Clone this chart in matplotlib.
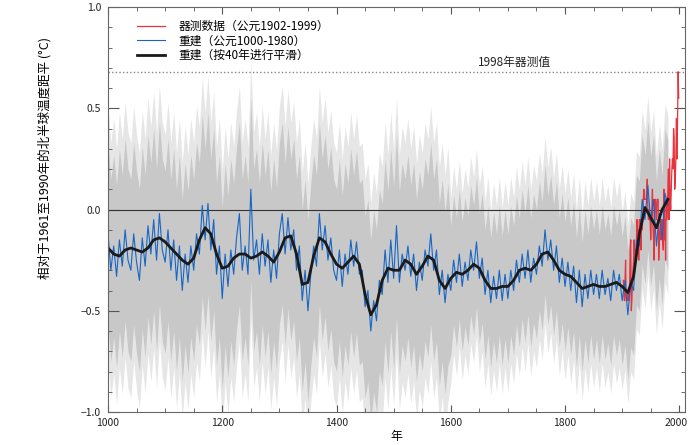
import numpy as np
import matplotlib.pyplot as plt
from matplotlib.ticker import MultipleLocator

plt.rcParams['font.family'] = ['Noto Sans CJK SC', 'DejaVu Sans']

# reconstruction, every 5 years from 1000 to 1980
recon_years = list(range(1000, 1981, 5))
recon = [
    # 1000s
    -0.12, -0.30, -0.18, -0.33, -0.15, -0.28, -0.10, -0.25, -0.30, -0.12,
    -0.26, -0.35, -0.14, -0.28, -0.08, -0.22, -0.05, -0.25, -0.02, -0.20,
    # 1100s
    -0.26, -0.10, -0.30, -0.15, -0.35, -0.18, -0.40, -0.22, -0.36, -0.18,
    -0.30, -0.12, -0.22, 0.02, -0.15, 0.03, -0.20, -0.05, -0.32, -0.18,
    # 1200s
    -0.44, -0.22, -0.38, -0.20, -0.32, -0.14, -0.02, -0.30, -0.18, -0.32,
    0.10, -0.25, -0.15, -0.32, -0.12, -0.28, -0.15, -0.36, -0.20, -0.34,
    # 1300s
    -0.12, -0.02, -0.22, -0.04, -0.20, -0.10, -0.30, -0.18, -0.45, -0.30,
    -0.50, -0.32, -0.18, -0.28, -0.02, -0.20, -0.08, -0.25, -0.14, -0.30,
    # 1400s
    -0.35, -0.20, -0.38, -0.22, -0.32, -0.15, -0.28, -0.16, -0.32, -0.30,
    -0.48, -0.40, -0.60, -0.45, -0.55, -0.35, -0.42, -0.20, -0.36, -0.15,
    # 1500s
    -0.34, -0.08, -0.36, -0.22, -0.30, -0.18, -0.33, -0.22, -0.40, -0.26,
    -0.35, -0.20, -0.28, -0.12, -0.30, -0.20, -0.42, -0.30, -0.46, -0.32,
    # 1600s
    -0.40, -0.25, -0.36, -0.22, -0.38, -0.26, -0.35, -0.20, -0.30, -0.16,
    -0.34, -0.24, -0.42, -0.30, -0.46, -0.33, -0.44, -0.30, -0.45, -0.32,
    # 1700s
    -0.44, -0.30, -0.40, -0.25, -0.36, -0.22, -0.34, -0.20, -0.36, -0.24,
    -0.32, -0.18, -0.28, -0.10, -0.25, -0.15, -0.30, -0.18, -0.36, -0.24,
    # 1800s
    -0.38, -0.26, -0.40, -0.28, -0.46, -0.30, -0.48, -0.32, -0.44, -0.30,
    -0.42, -0.32, -0.44, -0.30, -0.42, -0.34, -0.45, -0.30, -0.40, -0.32,
    # 1900s
    -0.45, -0.35, -0.52, -0.36, -0.40, -0.15, -0.18, 0.05, -0.05, 0.12,
    -0.06, 0.05, -0.18, -0.02, -0.15, 0.08, 0.02,
]

# half width of the uncertainty band (core and outer), per century from 1000
band_core = [0.45, 0.45, 0.45, 0.45, 0.45, 0.45, 0.32, 0.32, 0.32, 0.32]
band_outer = [0.63, 0.63, 0.63, 0.63, 0.63, 0.63, 0.46, 0.46, 0.46, 0.44]

# 40-year smoothed reconstruction, every 10 years
smooth_years = list(range(1000, 1981, 10))
smooth = [
    -0.19, -0.22, -0.23, -0.20, -0.19, -0.20, -0.21, -0.19, -0.15, -0.14,
    -0.16, -0.19, -0.22, -0.25, -0.27, -0.24, -0.15, -0.09, -0.12, -0.22,
    -0.29, -0.28, -0.24, -0.22, -0.22, -0.24, -0.23, -0.21, -0.23, -0.26,
    -0.21, -0.14, -0.13, -0.22, -0.37, -0.36, -0.23, -0.14, -0.16, -0.22,
    -0.27, -0.29, -0.26, -0.23, -0.27, -0.42, -0.52, -0.47, -0.35, -0.29,
    -0.30, -0.30, -0.25, -0.27, -0.32, -0.28, -0.23, -0.25, -0.35, -0.39,
    -0.34, -0.31, -0.32, -0.30, -0.27, -0.29, -0.35, -0.39, -0.39, -0.38,
    -0.38, -0.35, -0.30, -0.29, -0.30, -0.27, -0.22, -0.21, -0.25, -0.30,
    -0.32, -0.33, -0.36, -0.39, -0.38, -0.37, -0.38, -0.38, -0.37, -0.36,
    -0.38, -0.41, -0.33, -0.12, 0.01, -0.04, -0.09, 0.00, 0.05,
]

# instrumental record 1902-1999
instr_years = list(range(1902, 2000))
instr = [
    -0.35, -0.40, -0.45, -0.35, -0.25, -0.45, -0.45, -0.45, -0.40, -0.45,
    -0.45, -0.40, -0.20, -0.15, -0.50, -0.45, -0.35, -0.30, -0.25, -0.15,
    -0.25, -0.20, -0.25, -0.15, -0.05, -0.15, -0.10, -0.25, -0.05, -0.05,
    -0.05, -0.20, -0.05, -0.10, -0.05, 0.05, 0.10, 0.05, 0.05, 0.05,
    0.05, 0.10, 0.15, 0.00, -0.05, 0.00, -0.05, -0.05, -0.15, -0.05,
    0.00, 0.10, -0.10, -0.15, -0.25, 0.05, 0.05, 0.00, -0.05, 0.05,
    0.05, 0.05, -0.25, -0.15, -0.10, -0.05, -0.15, -0.05, -0.05, -0.15,
    -0.20, 0.10, -0.15, -0.05, -0.25, 0.05, -0.05, 0.00, 0.10, 0.20,
    -0.05, 0.25, 0.05, 0.00, 0.10, 0.20, 0.25, 0.20, 0.40, 0.35,
    0.10, 0.15, 0.25, 0.45, 0.25, 0.45, 0.68, 0.55,
]

value_1998 = 0.68
x_ticks = [1000, 1200, 1400, 1600, 1800, 2000]
y_ticks = [-1.0, -0.5, 0.0, 0.5, 1.0]
y_tick_labels = ['−1.0', '−0.5', '0.0', '0.5', '1.0']

recon_years = np.array(recon_years)
recon = np.array(recon)
century = np.minimum((recon_years - 1000) // 100, len(band_core) - 1)
core = np.array(band_core)[century]
outer = np.array(band_outer)[century]

fig = plt.figure(figsize=(6.89, 4.45), dpi=100)
ax = fig.add_axes([108 / 689, 1 - 412 / 445, 577 / 689, 405 / 445])

ax.fill_between(recon_years, recon - outer, recon + outer, color='#e6e6e6', lw=0)
ax.fill_between(recon_years, recon - core, recon + core, color='#c8c8c8', lw=0)
ax.axhline(0, color='#333333', lw=0.8)
ax.axhline(value_1998, color='#888888', lw=1, ls=(0, (1, 1.6)))
ax.text(1712, value_1998 + 0.012, '1998年器测值', fontsize=8.5, ha='center', va='bottom', color='#222222')

ax.plot(instr_years, instr, color='#e8323c', lw=0.9, label='器测数据（公元1902-1999）')
ax.plot(recon_years, recon, color='#1766c4', lw=0.8, label='重建（公元1000-1980）')
ax.plot(smooth_years, smooth, color='#1a1a1a', lw=2, solid_joinstyle='round',
        label='重建（按40年进行平滑）')

ax.set_xlim(1000, 2010)
ax.set_ylim(-1.0, 1.0)
ax.set_xticks(x_ticks)
# the last label sits a little left of its tick so that it stays on the canvas
ax.set_xticklabels([str(t) for t in x_ticks[:-1]] + [''])
ax.annotate(str(x_ticks[-1]), xy=(x_ticks[-1], 0), xycoords=('data', 'axes fraction'),
            xytext=(-2.5, -4), textcoords='offset points', ha='center', va='top',
            fontsize=7.5, color='#222222')
ax.xaxis.set_minor_locator(MultipleLocator(50))
ax.set_yticks(y_ticks)
ax.set_yticklabels(y_tick_labels)
ax.yaxis.set_minor_locator(MultipleLocator(0.1))
ax.tick_params(which='both', direction='in', top=True, right=True, color='#555555',
               labelsize=7.5, labelcolor='#222222')
ax.tick_params(axis='x', which='major', length=5, pad=4)
ax.tick_params(axis='y', which='major', length=8, pad=5)
ax.tick_params(which='minor', length=3)
for s in ax.spines.values():
    s.set_color('#666666')
    s.set_linewidth(0.8)

ax.set_xlabel('年', fontsize=8.5, labelpad=2)
ax.set_ylabel('相对于1961至1990年的北半球温度距平 (°C)', fontsize=9)
ax.yaxis.set_label_coords(-0.097, 0.627)

ax.legend(loc='upper left', bbox_to_anchor=(0.05, 0.968), frameon=False, fontsize=8.5,
          handlelength=2.4, handletextpad=1.1, labelspacing=0.12, borderaxespad=0, borderpad=0)

fig.savefig('out.png', dpi=100)
